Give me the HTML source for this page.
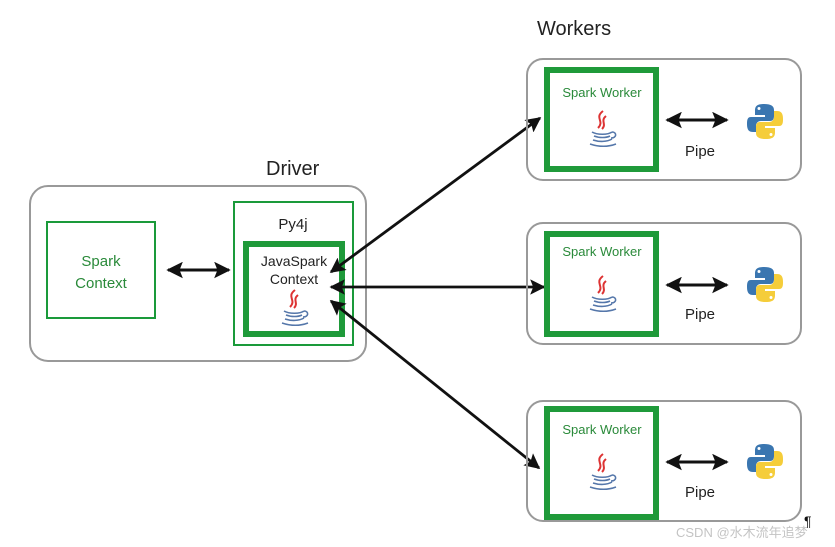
<!DOCTYPE html>
<html><head><meta charset="utf-8"><style>
html,body{margin:0;padding:0;background:#fff;}
svg{display:block;font-family:"Liberation Sans","DejaVu Sans",sans-serif;}
</style></head><body>
<svg width="835" height="547" viewBox="0 0 835 547" xmlns="http://www.w3.org/2000/svg">
<defs>
<marker id="ah" viewBox="0 0 10 10" refX="9" refY="5" markerWidth="5.5" markerHeight="5.5" orient="auto-start-reverse">
<path d="M0,0 L10,5 L0,10 L2,5 Z" fill="#111"/></marker>
<g id="java">
<path d="M12,0 C3,7 14,10 7,17 M15,5 C9,10 16,13 11,18" stroke="#d33" stroke-width="2" fill="none"/>
<path d="M1,21 C6,24 17,24 21,21 M3,25 C8,27 15,27 19,25 M2,29 C8,31 16,31 21,28 M21,21 C26,21 26,27 20,27" stroke="#5577aa" stroke-width="1.6" fill="none"/>
<path d="M-1,33 C8,36 17,36 25,33" stroke="#5577aa" stroke-width="1.5" fill="none"/>
</g>
<g id="py">
<path d="M17,0 C9,0 8,3 8,7 L8,11 L18,11 L18,13 L4,13 C0,13 0,17 0,20 C0,26 2,28 6,28 L9,28 L9,22 C9,19 11,17 14,17 L23,17 C26,17 27,15 27,12 L27,6 C27,2 24,0 17,0 Z" fill="#3a76b0"/>
<path d="M19,35 C27,35 28,32 28,28 L28,24 L18,24 L18,22 L32,22 C36,22 36,18 36,15 C36,9 34,7 30,7 L27,7 L27,13 C27,16 25,18 22,18 L13,18 C10,18 9,20 9,23 L9,29 C9,33 12,35 19,35 Z" fill="#f5cd3a"/>
<circle cx="12" cy="4.5" r="1.5" fill="#fff"/><circle cx="24" cy="30.5" r="1.5" fill="#fff"/>
</g>
</defs>

<text x="537" y="35" font-size="20" fill="#222">Workers</text>
<text x="266" y="175" font-size="20" fill="#222">Driver</text>

<!-- Driver -->
<rect x="30" y="186" width="336" height="175" rx="18" fill="none" stroke="#999" stroke-width="2"/>
<rect x="47" y="222" width="108" height="96" fill="none" stroke="#1a9a3a" stroke-width="2"/>
<text x="101" y="266" font-size="15" fill="#2a8a3a" text-anchor="middle">Spark</text>
<text x="101" y="288" font-size="15" fill="#2a8a3a" text-anchor="middle">Context</text>
<line x1="168" y1="270" x2="229" y2="270" stroke="#111" stroke-width="3" marker-start="url(#ah)" marker-end="url(#ah)"/>
<rect x="234" y="202" width="119" height="143" fill="none" stroke="#1a9a3a" stroke-width="2"/>
<text x="293" y="229" font-size="15" fill="#222" text-anchor="middle">Py4j</text>
<rect x="246" y="244" width="96" height="90" fill="none" stroke="#1f9a3a" stroke-width="6"/>
<text x="294" y="266" font-size="14" fill="#222" text-anchor="middle">JavaSpark</text>
<text x="294" y="284" font-size="14" fill="#222" text-anchor="middle">Context</text>
<use href="#java" x="283" y="290"/>

<!-- arrows to workers -->
<line x1="331" y1="272" x2="540" y2="118" stroke="#111" stroke-width="2.8" marker-start="url(#ah)" marker-end="url(#ah)"/>
<line x1="331" y1="287" x2="544" y2="287" stroke="#111" stroke-width="2.8" marker-start="url(#ah)" marker-end="url(#ah)"/>
<line x1="331" y1="301" x2="539" y2="468" stroke="#111" stroke-width="2.8" marker-start="url(#ah)" marker-end="url(#ah)"/>

<!-- Worker 1 -->
<rect x="527" y="59" width="274" height="121" rx="16" fill="none" stroke="#999" stroke-width="2"/>
<rect x="547" y="70" width="109" height="99" fill="none" stroke="#1f9a3a" stroke-width="6"/>
<text x="602" y="97" font-size="13" fill="#2a8a3a" text-anchor="middle">Spark Worker</text>
<use href="#java" x="591" y="111"/>
<line x1="667" y1="120" x2="727" y2="120" stroke="#111" stroke-width="3" marker-start="url(#ah)" marker-end="url(#ah)"/>
<text x="700" y="156" font-size="15" fill="#222" text-anchor="middle">Pipe</text>
<use href="#py" x="747" y="104"/>

<!-- Worker 2 -->
<rect x="527" y="223" width="274" height="121" rx="16" fill="none" stroke="#999" stroke-width="2"/>
<rect x="547" y="234" width="109" height="100" fill="none" stroke="#1f9a3a" stroke-width="6"/>
<text x="602" y="256" font-size="13" fill="#2a8a3a" text-anchor="middle">Spark Worker</text>
<use href="#java" x="591" y="276"/>
<line x1="667" y1="285" x2="727" y2="285" stroke="#111" stroke-width="3" marker-start="url(#ah)" marker-end="url(#ah)"/>
<text x="700" y="319" font-size="15" fill="#222" text-anchor="middle">Pipe</text>
<use href="#py" x="747" y="267"/>

<!-- Worker 3 -->
<rect x="527" y="401" width="274" height="120" rx="16" fill="none" stroke="#999" stroke-width="2"/>
<rect x="547" y="409" width="109" height="108" fill="none" stroke="#1f9a3a" stroke-width="6"/>
<text x="602" y="434" font-size="13" fill="#2a8a3a" text-anchor="middle">Spark Worker</text>
<use href="#java" x="591" y="454"/>
<line x1="667" y1="462" x2="727" y2="462" stroke="#111" stroke-width="3" marker-start="url(#ah)" marker-end="url(#ah)"/>
<text x="700" y="497" font-size="15" fill="#222" text-anchor="middle">Pipe</text>
<use href="#py" x="747" y="444"/>

<text x="804" y="526" font-size="14" fill="#111">¶</text>
<text x="676" y="537" font-size="13" fill="#c4c4c4" font-family="'Liberation Sans','Noto Sans CJK SC',sans-serif">CSDN @水木流年追梦</text>
</svg>
</body></html>
